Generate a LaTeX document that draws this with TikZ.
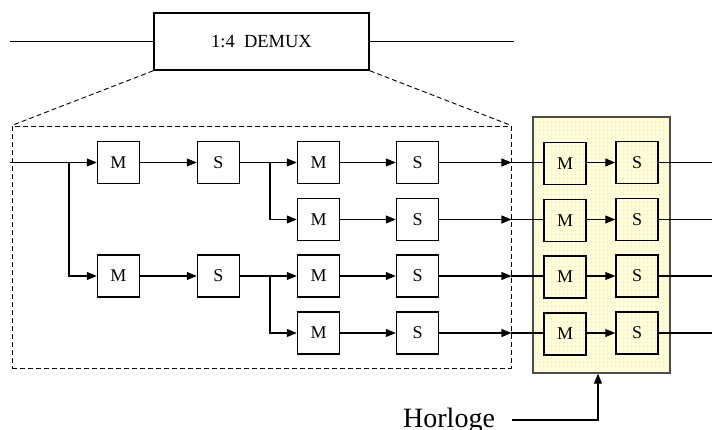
\documentclass[tikz,border=0pt]{standalone}
\usepackage{fontspec}
\setmainfont{Liberation Serif}
\usetikzlibrary{arrows.meta,patterns.meta}
\begin{document}
\begin{tikzpicture}[x=1pt,y=-1pt,
 blk/.style={draw,line width=1.5pt,minimum width=42pt,minimum height=42pt,inner sep=0pt,font=\fontsize{18}{18}\selectfont},
 con/.style={line width=1.1pt},
 arr/.style={con,-{Triangle[length=10pt,width=8pt]}},
 dsh/.style={line width=0.9pt,dash pattern=on 5pt off 3pt}]
\fill[white] (0,0) rectangle (712,430);
\useasboundingbox (0,0) rectangle (712,430);
% yellow clocked area
\node[draw=gray!60!black,line width=1.3pt,inner sep=0pt,minimum width=137pt,minimum height=256pt,
  preaction={fill=yellow!12},pattern={Dots[distance=4pt,radius=0.8pt]},pattern color=yellow] (yb) at (601.5,245) {};
% top demux
\node[draw,line width=1.5pt,inner sep=0pt,minimum width=215pt,minimum height=57pt,font=\fontsize{18.5}{18.5}\selectfont] (demux) at (261.5,41.5) {1:4\ \ DEMUX};
\coordinate (tin) at (10,41.5);
\coordinate (tout) at (514,41.5);
\draw[con] (tin) -- (demux.west);
\draw[con] (demux.east) -- (tout);
% dashed zoom box
\node[dsh,draw,inner sep=0pt,minimum width=499pt,minimum height=242pt] (db) at (261.5,247) {};
\draw[dsh] (demux.south west) -- (db.north west);
\draw[dsh] (demux.south east) -- (db.north east);
% blocks
\node[blk] (ma) at (118.5,162.5) {M};
\node[blk] (mb) at (118.5,276) {M};
\node[blk] (sa) at (218.5,162.5) {S};
\node[blk] (sb) at (218.5,276) {S};
\foreach \i/\y in {1/162.5,2/219.5,3/276,4/333}{
  \node[blk] (m\i) at (318.5,\y) {M};
  \node[blk] (s\i) at (417.5,\y) {S};
  \node[blk] (y\i) at (565,\y+1) {M};
  \node[blk] (z\i) at (637,\y) {S};
}
\coordinate (in) at (10,162.5);
\coordinate (bA) at (69,162.5);
\coordinate (bB) at (270,162.5);
\coordinate (bC) at (270,276);
\coordinate (out) at (712,0);
\draw[arr] (in) -- (ma);
\draw[arr] (bA) |- (mb);
\draw[arr] (ma) -- (sa);
\draw[arr] (mb) -- (sb);
\draw[arr] (sa) -- (m1);
\draw[arr] (sb) -- (m3);
\draw[arr] (bB) |- (m2);
\draw[arr] (bC) |- (m4);
\foreach \i in {1,2,3,4}{
  \draw[arr] (m\i) -- (s\i);
  \draw[arr] (s\i.east) -- (s\i.east -| db.east);
  \draw[con] (s\i.east -| db.east) -- (s\i.east -| y\i.west);
  \draw[arr] (y\i.east |- z\i) -- (z\i.west);
  \draw[con] (z\i.east) -- (z\i.east -| out);
}
% clock
\node[anchor=base west,inner sep=0pt,font=\fontsize{28}{28}\selectfont] (hl) at (403,427) {Horloge};
\coordinate (ck) at (512,420);
\draw[arr] (ck) -| ([xshift=-3.5pt]yb.south);
\end{tikzpicture}
\end{document}
